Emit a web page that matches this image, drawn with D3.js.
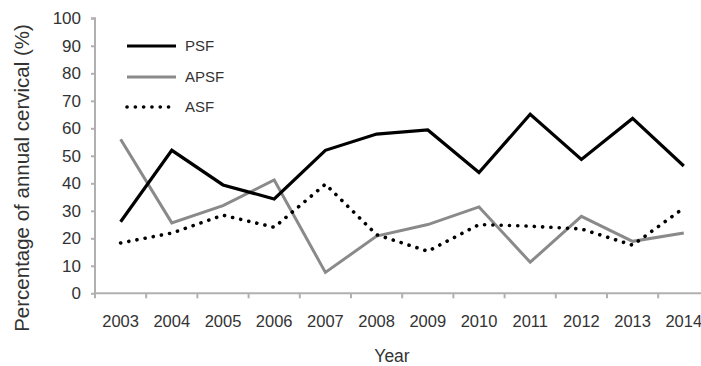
<!DOCTYPE html>
<html><head><meta charset="utf-8">
<script src="https://cdn.jsdelivr.net/npm/d3@7"></script>
<style>
body{margin:0;background:#fff;}
svg{display:block;font-family:"Liberation Sans",Arial,Helvetica,sans-serif;}
</style></head>
<body>
<svg id="chart" width="701" height="366"></svg>
<script>
const years = ["2003","2004","2005","2006","2007","2008","2009","2010","2011","2012","2013","2014"];
const psf  = [26, 52, 39.4, 34.3, 52, 57.9, 59.4, 43.9, 65.1, 48.7, 63.6, 46.3];
const apsf = [56, 25.6, 31.9, 41.2, 7.6, 20.8, 25, 31.4, 11.3, 28, 18.9, 21.9];
const asf  = [18.3, 21.9, 28.4, 24, 39.7, 21.3, 15.3, 25, 24.4, 23.4, 17.5, 31];
const yTicks = [0,10,20,30,40,50,60,70,80,90,100];
const seriesNames = ["PSF","APSF","ASF"];

const svg = d3.select("#chart");
const x = d3.scaleBand().domain(years).range([95, 709.4]);
const y = d3.scaleLinear().domain([0,100]).range([293.3, 18.3]);
const axisColor = "#b0b0b0";
const textColor = "#333";

// y axis
const ya = svg.append("g").attr("transform","translate(95,0)")
  .call(d3.axisLeft(y).tickValues(yTicks).tickSize(4).tickPadding(10));
ya.select(".domain").attr("stroke",axisColor).attr("stroke-width",2).attr("d","M-4,18.3H0V293.3");
ya.selectAll(".tick line").attr("stroke",axisColor).attr("stroke-width",2);
ya.selectAll(".tick text").attr("fill",textColor).style("font-size","17px");

// x axis
const xa = svg.append("g").attr("transform","translate(0,293.3)")
  .call(d3.axisBottom(x).tickSize(0).tickPadding(20));
xa.select(".domain").remove();
xa.append("line").attr("x1",95).attr("x2",701).attr("y1",0).attr("y2",0)
  .attr("stroke",axisColor).attr("stroke-width",2);
xa.selectAll(".tick text").attr("fill",textColor).style("font-size","16.5px").attr("dy","0.32em").attr("y",28);
const bounds = years.map(d => x(d)).concat([x(years[years.length-1]) + x.bandwidth()]);
xa.selectAll(".btick").data(bounds).enter().append("line")
  .attr("x1",d=>d).attr("x2",d=>d).attr("y1",0).attr("y2",5)
  .attr("stroke",axisColor).attr("stroke-width",2);

// lines
const line = vals => d3.line().x((d,i)=>x(years[i]) + x.bandwidth()/2).y(d=>y(d))(vals);
svg.append("path").attr("d",line(apsf)).attr("fill","none").attr("stroke","#8a8a8a").attr("stroke-width",3);
svg.append("path").attr("d",line(psf)).attr("fill","none").attr("stroke","#000").attr("stroke-width",3.2);
svg.append("path").attr("d",line(asf)).attr("fill","none").attr("stroke","#000").attr("stroke-width",3.6)
  .attr("stroke-linecap","round").attr("stroke-dasharray","0.1 8.2");

// legend
const leg = [
  {name:seriesNames[0], stroke:"#000", dash:null, w:3.2, y:46},
  {name:seriesNames[1], stroke:"#8a8a8a", dash:null, w:3, y:77},
  {name:seriesNames[2], stroke:"#000", dash:"0.1 8.2", w:3.6, y:107}
];
leg.forEach(l=>{
  const ln = svg.append("line").attr("x1",127).attr("x2",176).attr("y1",l.y).attr("y2",l.y)
    .attr("stroke",l.stroke).attr("stroke-width",l.w);
  if(l.dash) ln.attr("stroke-dasharray",l.dash).attr("stroke-linecap","round");
  svg.append("text").attr("x",185).attr("y",l.y).attr("dy","0.35em").attr("fill",textColor)
    .style("font-size","15px").text(l.name);
});

// axis titles
svg.append("text").attr("transform","translate(29,178) rotate(-90)").attr("text-anchor","middle")
  .attr("fill",textColor).style("font-size","20.5px").text("Percentage of annual cervical (%)");
svg.append("text").attr("x",392).attr("y",356).attr("dy","0.35em").attr("text-anchor","middle")
  .attr("fill",textColor).style("font-size","17.5px").text("Year");
</script>
</body></html>
